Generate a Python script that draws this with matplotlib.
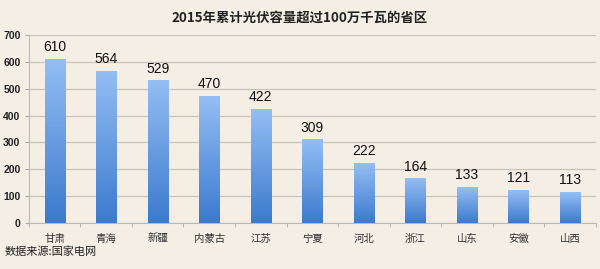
import matplotlib
matplotlib.use("Agg")
import matplotlib.pyplot as plt
import numpy as np
from matplotlib.colors import LinearSegmentedColormap

plt.rcParams['font.family'] = ['Noto Sans CJK SC', 'DejaVu Sans']

provinces = ["甘肃", "青海", "新疆", "内蒙古", "江苏", "宁夏", "河北", "浙江", "山东", "安徽", "山西"]
capacity = [610, 564, 529, 470, 422, 309, 222, 164, 133, 121, 113]
yticks = [0, 100, 200, 300, 400, 500, 600, 700]
title = "2015年累计光伏容量超过100万千瓦的省区"
source = "数据来源:国家电网"

bg = "#f4eee5"
fig = plt.figure(figsize=(6.0, 2.69), dpi=100, facecolor=bg)
ax = fig.add_axes([0.048, 0.171, 0.945, 0.699], facecolor=bg)

cmap = LinearSegmentedColormap.from_list("bar", ["#3c7acd", "#94bef4"])
grad = np.linspace(0, 1, 256).reshape(-1, 1)
w = 0.39
x = np.arange(len(provinces))
for xi, v in zip(x, capacity):
    ax.imshow(grad, cmap=cmap, origin="lower", aspect="auto",
              extent=(xi - w / 2, xi + w / 2, 0, v), zorder=3)
    ax.text(xi, v + 20, str(v), ha="center", va="bottom", fontsize=10,
            family=["Liberation Sans"], color="#111111", zorder=4)

ax.set_xlim(-0.5, len(provinces) - 0.5)
ax.set_ylim(0, 700)
ax.set_yticks(yticks)
ax.set_yticklabels([str(t) for t in yticks], fontsize=7.5, family=["Liberation Sans"],
                   fontweight="bold", color="#222222")
ax.yaxis.grid(True, color="#c9c3ba", linewidth=0.9, zorder=0)
ax.set_axisbelow(True)
ax.tick_params(axis="y", length=3, color="#aaaaaa", pad=3)
ax.set_xticks(x)
ax.set_xticklabels(provinces, fontsize=7.5, color="#333333")
ax.tick_params(axis="x", length=0, pad=8)
ax.set_xticks(np.arange(len(provinces) + 1) - 0.5, minor=True)
ax.tick_params(axis="x", which="minor", length=3, color="#aaaaaa")
for s in ["top", "right"]:
    ax.spines[s].set_visible(False)
ax.spines["left"].set_color("#bbbbbb")
ax.spines["bottom"].set_color("#bbbbbb")

fig.text(0.5, 0.935, title, ha="center", va="center", fontsize=9.6, fontweight="bold", color="#222222")
fig.text(0.008, 0.063, source, ha="left", va="center", fontsize=8, color="#222222")

fig.savefig("out.png", dpi=100, facecolor=bg)
